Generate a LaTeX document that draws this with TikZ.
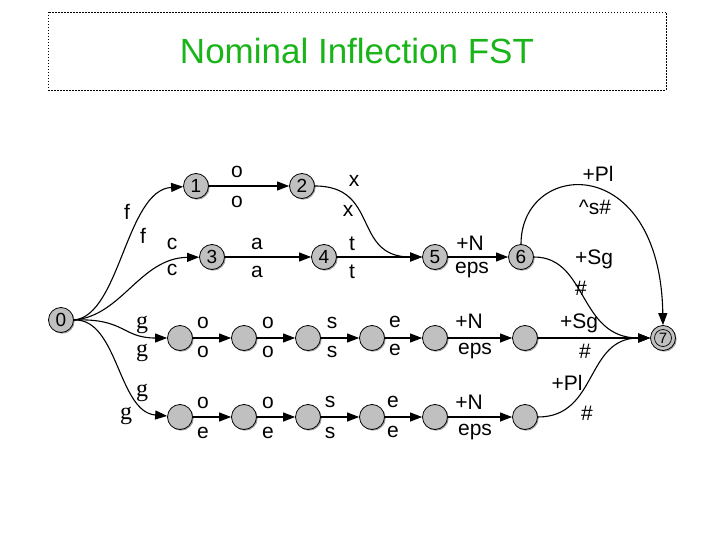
\documentclass[tikz,border=0pt]{standalone}
\usepackage{fontspec}
\setmainfont{Liberation Sans}
\newfontfamily\serifg{Liberation Serif}
\usetikzlibrary{arrows.meta,shadows}
\definecolor{titlegreen}{RGB}{25,180,25}
\definecolor{nodegray}{RGB}{192,192,192}
\begin{document}
\begin{tikzpicture}[x=1pt,y=-1pt,
  st/.style={circle,draw,line width=0.8pt,fill=nodegray,minimum size=25pt,inner sep=0pt,
    font=\fontsize{19}{19}\selectfont,
    drop shadow={shadow xshift=1.2pt,shadow yshift=-1.2pt,fill=black!60,opacity=0.6}},
  lab/.style={inner sep=0pt,font=\fontsize{21}{21}\selectfont},
  glab/.style={inner sep=0pt,font=\fontsize{24}{24}\serifg},
  tr/.style={line width=1.1pt,-{Triangle[length=12pt,width=9pt]}}]
\useasboundingbox (0,0) rectangle (720,540);
% title
\draw[line width=0.8pt,dash pattern=on 1.5pt off 1.5pt] (48,12) rectangle (666,90);
\node[inner sep=0pt,font=\fontsize{35}{35}\selectfont,text=titlegreen] (title) at (357,51) {Nominal Inflection FST};
% states
\node[st] (n0) at (61,320) {0};
\node[st] (n1) at (196,186) {1};
\node[st] (n2) at (302,186) {2};
\node[st] (n3) at (212,257) {3};
\node[st] (n4) at (324,257) {4};
\node[st] (n5) at (435,257) {5};
\node[st] (n6) at (521,257) {6};
\node[st] (n7) at (663,338) {\fontsize{15}{15}\selectfont 7};
\draw[line width=0.7pt] (n7.center) circle (8.5pt);
\foreach \i/\x in {a/180,b/244,c/308,d/372,e/435,f/525}{
  \node[st] (r1\i) at (\x,338) {};
  \node[st] (r2\i) at (\x,417) {};
}
% transitions
\draw[tr] (n0.east) .. controls (120,316) and (126,190) .. (n1);
\draw[tr] (n0.east) .. controls (122,316) and (140,258) .. (n3);
\draw[tr] (n1) -- (n2);
\draw[tr] (n2) .. controls (380,186) and (352,257) .. (n5);
\draw[tr] (n3) -- (n4);
\draw[tr] (n4) -- (n5);
\draw[tr] (n5) -- (n6);
\draw[tr] (n6.north) .. controls (521,160) and (660,150) .. (n7.north);
\draw[tr] (n6.east) .. controls (588,257) and (578,338) .. (n7.west);
\draw[tr] (n0.east) .. controls (125,318) and (122,338) .. (r1a);
\draw[tr] (n0.east) .. controls (118,318) and (118,412) .. (r2a);
\draw[tr] (r1a) -- (r1b);
\draw[tr] (r1b) -- (r1c);
\draw[tr] (r1c) -- (r1d);
\draw[tr] (r1d) -- (r1e);
\draw[tr] (r1e) -- (r1f);
\draw[tr] (r1f) -- (n7);
\draw[tr] (r2a) -- (r2b);
\draw[tr] (r2b) -- (r2c);
\draw[tr] (r2c) -- (r2d);
\draw[tr] (r2d) -- (r2e);
\draw[tr] (r2e) -- (r2f);
\draw[tr] (r2f.east) .. controls (598,417) and (585,338) .. (n7.west);
% labels
\node[lab] (lf1) at (127,212) {f};
\node[lab] (lf2) at (143,236) {f};
\node[lab] (lc1) at (172,244) {c};
\node[lab] (lc2) at (172,270) {c};
\node[lab] (lo1) at (237,172) {o};
\node[lab] (lo2) at (237,202) {o};
\node[lab] (lx1) at (354,181) {x};
\node[lab] (lx2) at (348,211) {x};
\node[lab] (la1) at (257,244) {a};
\node[lab] (la2) at (257,272) {a};
\node[lab] (lt1) at (352,244) {t};
\node[lab] (lt2) at (352,272) {t};
\node[lab] (lN1) at (470,243) {+N};
\node[lab] (le1) at (472,270) {eps};
\node[lab] (lPl1) at (598,174) {+Pl};
\node[lab] (ls1) at (595,207) {\^{}s\#};
\node[lab] (lSg1) at (594,259) {+Sg};
\node[lab] (lh1) at (581,288) {\#};
% row 1
\node[glab] (lg1) at (142,325) {g};
\node[glab] (lg2) at (142,353) {g};
\node[lab] (r1l1) at (203,323) {o};
\node[lab] (r1l2) at (203,352) {o};
\node[lab] (r1l3) at (268,323) {o};
\node[lab] (r1l4) at (268,352) {o};
\node[lab] (r1l5) at (332,323) {s};
\node[lab] (r1l6) at (332,352) {s};
\node[lab] (r1l7) at (395,322) {e};
\node[lab] (r1l8) at (395,350) {e};
\node[lab] (r1l9) at (469,321) {+N};
\node[lab] (r1l10) at (475,351) {eps};
\node[lab] (r1l11) at (579,323) {+Sg};
\node[lab] (r1l12) at (585,351) {\#};
% row 2
\node[glab] (lg3) at (142,393) {g};
\node[glab] (lg4) at (126,416) {g};
\node[lab] (r2l1) at (203,403) {o};
\node[lab] (r2l2) at (203,433) {e};
\node[lab] (r2l3) at (268,403) {o};
\node[lab] (r2l4) at (268,433) {e};
\node[lab] (r2l5) at (330,402) {s};
\node[lab] (r2l6) at (330,433) {s};
\node[lab] (r2l7) at (393,402) {e};
\node[lab] (r2l8) at (393,432) {e};
\node[lab] (r2l9) at (469,402) {+N};
\node[lab] (r2l10) at (475,432) {eps};
\node[lab] (r2l11) at (567,383) {+Pl};
\node[lab] (r2l12) at (587,413) {\#};
\end{tikzpicture}
\end{document}
